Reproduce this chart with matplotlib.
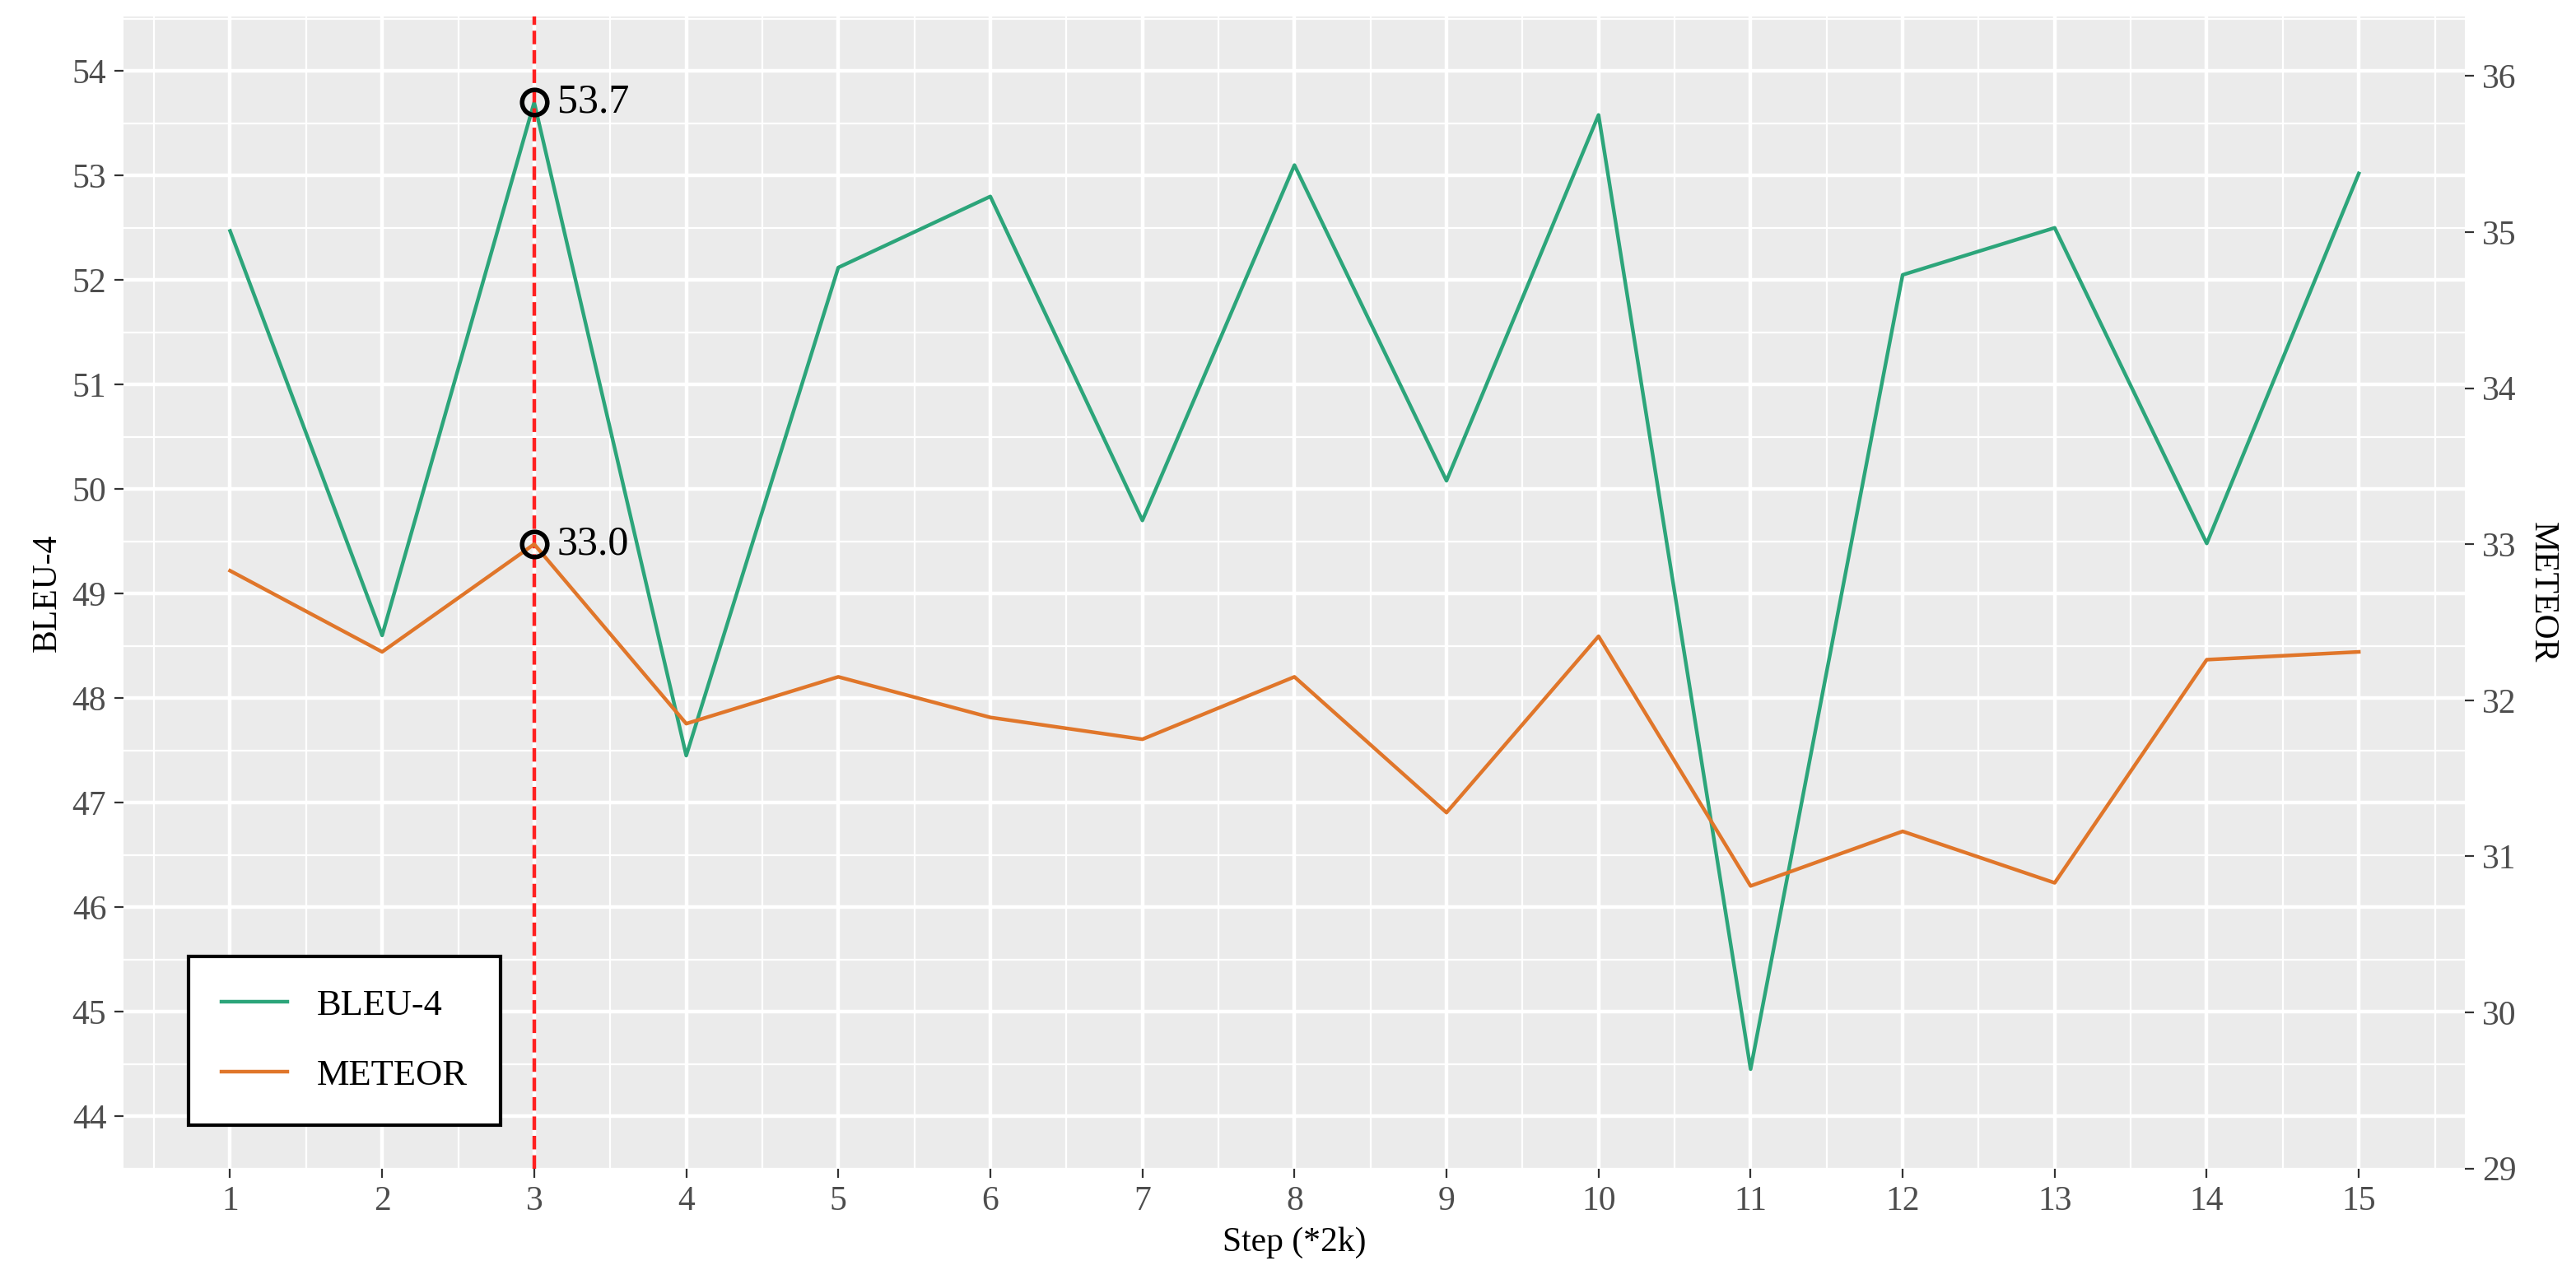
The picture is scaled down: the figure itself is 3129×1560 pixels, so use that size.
import matplotlib
matplotlib.use("Agg")
import matplotlib.pyplot as plt
import numpy as np

steps = list(range(1, 16))
bleu = [52.47, 48.6, 53.7, 47.45, 52.12, 52.8, 49.7, 53.1, 50.08, 53.58, 44.45, 52.05, 52.5, 49.48, 53.02]
meteor = [32.83, 32.31, 33.0, 31.85, 32.15, 31.89, 31.75, 32.15, 31.28, 32.41, 30.81, 31.16, 30.83, 32.26, 32.31]
best_step = 3

plt.rcParams['font.family'] = ['Liberation Serif', 'DejaVu Serif']
fig = plt.figure(figsize=(15.645, 7.8), dpi=200)
ax = fig.add_axes([0.048, 0.09, 0.909, 0.897])
ax.set_facecolor('#EBEBEB')
for s in ax.spines.values():
    s.set_visible(False)
ax.set_xlim(0.3, 15.7)
ax.set_ylim(43.53, 54.52)
ax.set_xticks(steps)
ax.set_xticks(np.arange(0.5, 16, 1), minor=True)
ax.set_yticks(range(44, 55))
ax.set_yticks(np.arange(43.5, 55, 1), minor=True)
ax.grid(True, which='major', color='white', lw=1.6)
ax.grid(True, which='minor', color='white', lw=0.8)
ax.set_axisbelow(True)
ax.tick_params(which='both', length=4, color='#333333', labelsize=15, labelcolor='#4D4D4D')
ax.tick_params(which='minor', length=0)
ax2 = ax.twinx()
for s in ax2.spines.values():
    s.set_visible(False)
ax2.set_ylim(29, 36.38)
ax2.set_yticks(range(29, 37))
ax2.tick_params(length=4, color='#333333', labelsize=15, labelcolor='#4D4D4D')

c1, c2 = '#2CA57A', '#E0762A'
ax.plot(steps, bleu, color=c1, lw=1.6, label='BLEU-4')
ax2.plot(steps, meteor, color=c2, lw=1.6)
ax.plot([], [], color=c2, lw=1.6, label='METEOR')
ax.axvline(best_step, color='#FF2020', ls='--', lw=1.6)
i = best_step - 1
ax.plot(best_step, bleu[i], 'o', mfc='none', mec='black', mew=2, ms=11)
ax2.plot(best_step, meteor[i], 'o', mfc='none', mec='black', mew=2, ms=11)
ax.text(best_step + 0.15, bleu[i], f'{bleu[i]:.1f}', va='center', fontsize=18)
ax2.text(best_step + 0.15, meteor[i], f'{meteor[i]:.1f}', va='center', fontsize=18)

ax.set_xlabel('Step (*2k)', fontsize=15)
ax.set_ylabel('BLEU-4', fontsize=15)
ax2.set_ylabel('METEOR', fontsize=15, rotation=270, labelpad=18)
leg = ax.legend(loc='lower left', bbox_to_anchor=(0.02, 0.022), fontsize=16, frameon=True,
                fancybox=False, edgecolor='black', facecolor='white', framealpha=1,
                handlelength=1.8, borderpad=0.9, labelspacing=1.0)
leg.get_frame().set_linewidth(1.5)
fig.savefig('out.png', dpi=200)
